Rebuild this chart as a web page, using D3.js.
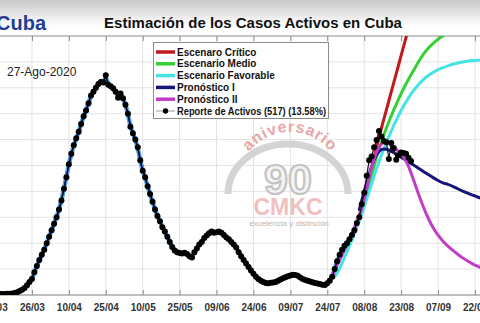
<!DOCTYPE html>
<html><head><meta charset="utf-8">
<script src="https://cdn.jsdelivr.net/npm/d3@7"></script>
<style>body{margin:0;background:#fff}svg{display:block;font-family:"Liberation Sans",Arial,sans-serif}</style>
</head><body><svg id="c" width="480" height="323"></svg>
<script>
// ---------- data ----------
const startDate = "2020-03-11";
const tickLabels = ["11/03","26/03","10/04","25/04","10/05","25/05","09/06","24/06","09/07","24/07","08/08","23/08","07/09","22/09"];
const yTicks = [0,100,200,300,400,500,600,700,800,900,1000];
// daily active cases from 11/03 to 27/08
const activeCases = [
  3,3,4,4,4,5,5,6,8,11,
  15,20,27,38,50,62,88,112,135,155,
  175,200,225,250,275,300,330,365,410,455,
  505,545,578,605,630,660,690,712,740,770,
  785,800,815,822,820,848,812,806,798,785,
  762,778,760,735,700,650,625,600,570,520,
  480,455,420,390,360,330,305,285,262,245,
  225,205,185,172,165,162,160,163,158,150,
  145,165,180,195,205,220,230,238,245,240,
  242,245,240,232,222,215,205,195,183,165,
  150,135,122,108,95,82,70,62,55,50,
  46,45,47,48,50,55,60,65,69,72,
  75,78,77,74,68,62,58,55,52,49,
  46,44,42,40,39,45,55,70,100,130,
  155,175,190,200,215,232,250,278,300,350,
  395,460,520,535,570,598,633,612,595,590,
  525,587,568,522,540,550,548,545,530,517
];
const seriesStep = 2; // days between values of each scenario
const criticoStart = 144;
const critico = [210,250,305,375,450,530,610,680,750,820,890,960,1030,1100];
const medioStart = 144;
const medio = [205,245,295,355,425,500,565,620,670,715,758,798,834,866,900,930,953,972,988,1000,1015];
const favorableStart = 138;
const favorable = [70,100,145,190,235,285,340,400,460,515,565,612,655,695,730,762,790,812,832,848,860,870,878,885,891,896,900,903,905,907,908];
const pron1Start = 148;
const pronostico1 = [330,400,470,525,558,566,560,550,538,526,514,502,490,477,465,453,442,432,428,420,410,401,393,386,378,372];
const pron2Start = 134;
const pronostico2 = [40,58,95,135,175,215,258,300,367,456,530,575,592,587,572,553,535,500,445,390,340,295,258,230,207,188,172,157,143,131,120,111,103];
const fitEnd = 147; // last day of historical fit drawn
const legendLabels = ["Escenaro Crítico","Escenario Medio","Escenario Favorable","Pronóstico I","Pronóstico II","Reporte de Activos (517) (13.58%)"];
const colors = {crit:"#c0191c", medio:"#35d035", fav:"#45e3e3", p1:"#15157a", p2:"#c23cc6", fitLight:"#4d9de8"};

// ---------- setup ----------
const svg = d3.select("#c");
const parse = d3.timeParse("%Y-%m-%d");
const t0 = parse(startDate);
const dayDate = i => d3.timeDay.offset(t0, i);
const tickDates = tickLabels.map(s => d3.timeParse("%d/%m/%Y")(s + "/2020"));

const x = d3.scaleTime().domain([tickDates[0], tickDates[tickDates.length-1]]).range([-5, 475]);
const y = d3.scaleLinear().domain([0, 1000]).range([295, 36]);

// header gradient
const defs = svg.append("defs");
const g1 = defs.append("linearGradient").attr("id","hg").attr("x1",0).attr("y1",0).attr("x2",0).attr("y2",1);
g1.append("stop").attr("offset","0%").attr("stop-color","#c9c9c9");
g1.append("stop").attr("offset","100%").attr("stop-color","#ffffff");
svg.append("rect").attr("x",0).attr("y",0).attr("width",480).attr("height",26).attr("fill","url(#hg)");
defs.append("clipPath").attr("id","pc").append("rect").attr("x",-20).attr("y",36).attr("width",520).attr("height",259);

// grid
svg.append("g").selectAll("line").data(yTicks).join("line")
  .attr("x1",0).attr("x2",480).attr("y1",d=>y(d)).attr("y2",d=>y(d))
  .attr("stroke","#e3e3e3").attr("stroke-width",1);
svg.append("g").selectAll("line").data(tickDates).join("line")
  .attr("x1",d=>x(d)).attr("x2",d=>x(d)).attr("y1",36).attr("y2",295)
  .attr("stroke","#e3e3e3").attr("stroke-width",1);

// watermark
const wm = svg.append("g");
wm.append("path").attr("d","M228,194 A60,50 0 0 1 348,194")
  .attr("fill","none").attr("stroke","#d4d4d4").attr("stroke-width",7);
defs.append("path").attr("id","arcTxt").attr("d","M238,184 A52,52 0 0 1 342,184");
wm.append("text").attr("font-size",16).attr("font-weight","bold").attr("fill","#eaa6a6").attr("letter-spacing",0.8)
  .append("textPath").attr("href","#arcTxt").attr("startOffset","50%").attr("text-anchor","middle").text("aniversario");
wm.append("text").attr("x",288).attr("y",194).attr("text-anchor","middle").attr("font-size",43).attr("font-weight","bold")
  .attr("fill","#f4f4f4").attr("stroke","#c4c4c4").attr("stroke-width",2.2).text("90");
wm.append("text").attr("x",288).attr("y",215).attr("text-anchor","middle").attr("font-size",23).attr("font-weight","bold")
  .attr("fill","#f0c0c0").text("CMKC");
wm.append("text").attr("x",289).attr("y",226).attr("text-anchor","middle").attr("font-size",8)
  .attr("fill","#b5b5b5").text("excelencia y distinción");

// axes frame
svg.append("line").attr("x1",0).attr("x2",480).attr("y1",36).attr("y2",36).attr("stroke","#9a9a9a");
const xAxis = d3.axisBottom(x).tickValues(tickDates).tickFormat((d,i)=>tickLabels[i]).tickSize(-5).tickPadding(9);
const ax = svg.append("g").attr("transform","translate(0,295)").call(xAxis);
ax.select(".domain").attr("stroke","#8a8a8a").attr("d","M0,0H480");
ax.selectAll(".tick line").attr("stroke","#8a8a8a");
ax.selectAll("text").attr("font-size",10).attr("font-weight","bold").attr("fill","#333").attr("font-family","Liberation Sans, Arial, sans-serif");
const axTop = d3.axisTop(x).tickValues(tickDates).tickFormat("").tickSize(-5);
const at = svg.append("g").attr("transform","translate(0,36)").call(axTop);
at.select(".domain").remove();
at.selectAll(".tick line").attr("stroke","#8a8a8a");

// lines
const plot = svg.append("g").attr("clip-path","url(#pc)");
const lineGen = d3.line().x(d=>x(d[0])).y(d=>y(d[1])).curve(d3.curveBasis);
const ser = (start, vals) => vals.map((v,k)=>[dayDate(start + k*seriesStep), v]);
const hist = activeCases.map((v,i)=>[dayDate(i), v]);
const histFit = hist.slice(0, fitEnd+1);

plot.append("path").attr("d",lineGen(histFit)).attr("fill","none").attr("stroke",colors.fitLight).attr("stroke-width",4.5);
plot.append("path").attr("d",lineGen(histFit)).attr("fill","none").attr("stroke",colors.p1).attr("stroke-width",1.6);

const scen = [
  [ser(criticoStart, critico), colors.crit],
  [ser(medioStart, medio), colors.medio],
  [ser(favorableStart, favorable), colors.fav],
  [ser(pron1Start, pronostico1), colors.p1],
  [ser(pron2Start, pronostico2), colors.p2]
];
scen.forEach(([d,c])=>{
  plot.append("path").attr("d",lineGen(d)).attr("fill","none").attr("stroke",c).attr("stroke-width",3).attr("stroke-linecap","round");
});

// observed
plot.append("path").attr("d",d3.line().x(d=>x(d[0])).y(d=>y(d[1]))(hist)).attr("fill","none").attr("stroke","#111").attr("stroke-width",1.2);
plot.append("g").selectAll("circle").data(hist).join("circle")
  .attr("cx",d=>x(d[0])).attr("cy",d=>y(d[1])).attr("r",3).attr("fill","#000");

// titles
svg.append("text").attr("x",253).attr("y",28).attr("text-anchor","middle").attr("font-size",15).attr("font-weight","bold").attr("fill","#111")
  .text("Estimación de los Casos Activos en Cuba");
svg.append("text").attr("x",-4).attr("y",30).attr("font-size",20).attr("font-weight","bold").attr("fill","#1f3d96").text("Cuba");
svg.append("text").attr("x",7).attr("y",76).attr("font-size",12).attr("fill","#222").text("27-Ago-2020");

// legend
const lg = svg.append("g");
lg.append("rect").attr("x",153.5).attr("y",42.5).attr("width",175).attr("height",76).attr("fill","#fff").attr("stroke","#8a8a8a");
const legColors = [colors.crit, colors.medio, colors.fav, colors.p1, colors.p2, null];
legendLabels.forEach((lab,i)=>{
  const yy = 52 + i*11.8;
  if (legColors[i]) {
    lg.append("line").attr("x1",156).attr("x2",175).attr("y1",yy).attr("y2",yy).attr("stroke",legColors[i]).attr("stroke-width",3.5);
  } else {
    lg.append("line").attr("x1",156).attr("x2",175).attr("y1",yy).attr("y2",yy).attr("stroke","#999").attr("stroke-width",1);
    lg.append("circle").attr("cx",165.5).attr("cy",yy).attr("r",2.7).attr("fill","#000");
  }
  const t = lg.append("text").attr("x",177).attr("y",yy+3.6).attr("font-size",10).attr("font-weight","bold").attr("fill","#111").text(lab);
  if (i === legendLabels.length-1) t.attr("textLength",149).attr("lengthAdjust","spacingAndGlyphs");
});
</script></body></html>
